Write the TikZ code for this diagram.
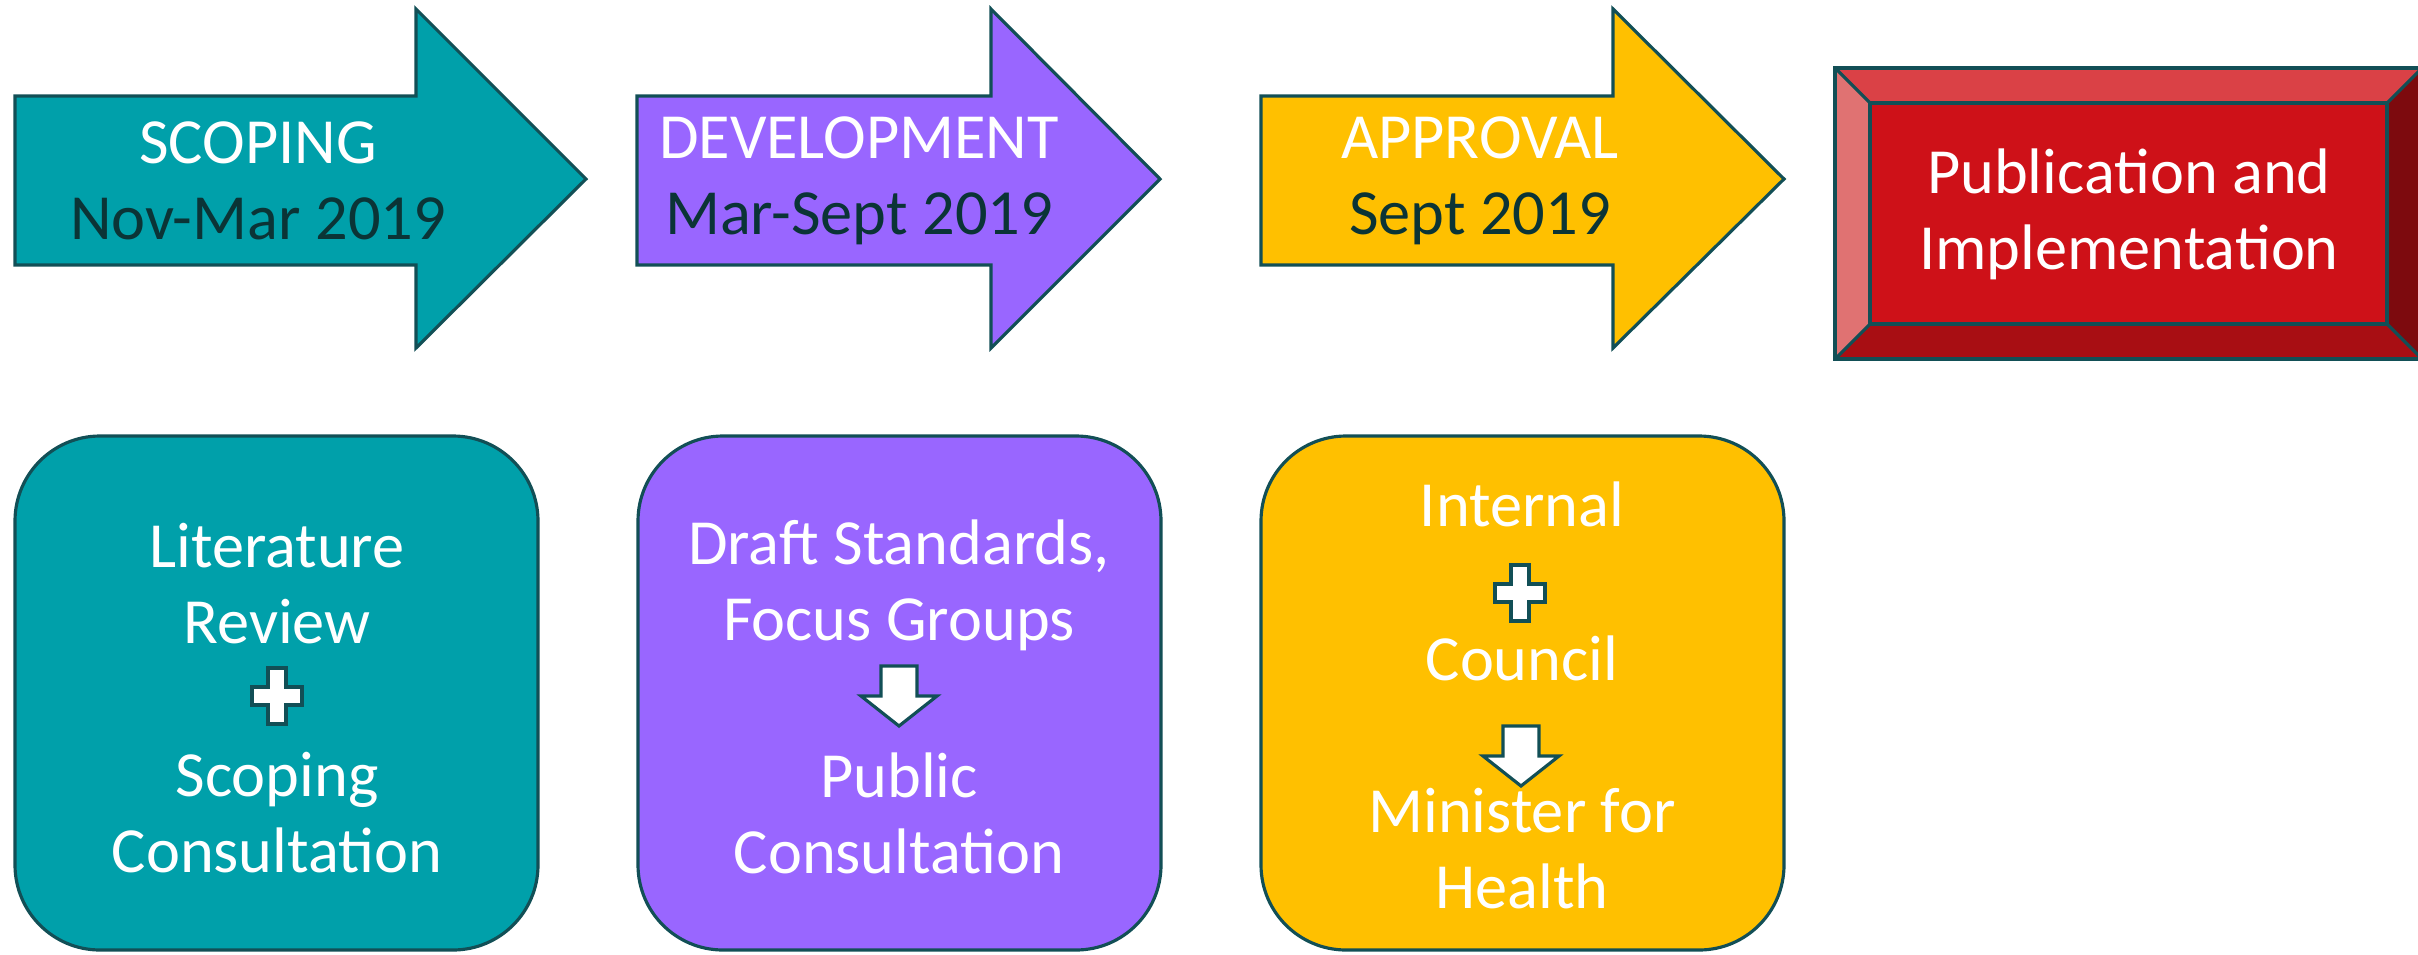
\documentclass[tikz,border=0pt]{standalone}
\usepackage{fontspec}
\setmainfont{Carlito}
\usepackage{tikz}

\definecolor{scopeteal}{HTML}{00A0AA}
\definecolor{devpurple}{HTML}{9966FF}
\definecolor{apramber}{HTML}{FFC000}
\definecolor{edgeteal}{HTML}{124F56}
\definecolor{darktext}{HTML}{0B3436}
\definecolor{pubred}{HTML}{CE1118}
\definecolor{pubtop}{HTML}{DA4146}
\definecolor{publeft}{HTML}{E07272}
\definecolor{pubbottom}{HTML}{A80E13}
\definecolor{pubright}{HTML}{7D0A0E}

\begin{document}
\begin{tikzpicture}[x=0.01cm,y=-0.01cm,line width=0.9pt,
                    txt/.style={text=white,align=center,inner sep=0pt,
                                font=\fontsize{18.3}{21.6}\selectfont}]
  \tikzstyle{stage}=[draw=edgeteal]
  \tikzstyle{task}=[draw=edgeteal,rounded corners=0.85cm]
  \tikzset{plus/.pic={\filldraw[fill=white,draw=edgeteal]
             (-9,-28) -- (9,-28) -- (9,-9) -- (25,-9) -- (25,9) -- (9,9) -- (9,28)
             -- (-9,28) -- (-9,9) -- (-25,9) -- (-25,-9) -- (-9,-9) -- cycle;},
           down/.pic={\filldraw[fill=white,draw=edgeteal]
             (-18,-30) -- (18,-30) -- (18,0) -- (38,0) -- (0,30) -- (-38,0)
             -- (-18,0) -- cycle;}}

  \useasboundingbox (0,0) rectangle (2418,954);

  \filldraw[stage,fill=scopeteal] (15,96) -- (416,96) -- (416,9) -- (586,179)
    -- (416,348) -- (416,265) -- (15,265) -- cycle;
  \filldraw[stage,fill=devpurple] (637,96) -- (991,96) -- (991,9) -- (1160,179)
    -- (991,348) -- (991,265) -- (637,265) -- cycle;
  \filldraw[stage,fill=apramber] (1261,96) -- (1613,96) -- (1613,9) -- (1784,179)
    -- (1613,348) -- (1613,265) -- (1261,265) -- cycle;

  \node[txt] (scoping)     at (258,181)  {SCOPING\\\textcolor{darktext}{Nov-Mar 2019}};
  \node[txt] (development) at (859,181)  {DEVELOPMENT\\\textcolor{darktext}{Mar-Sept 2019}};
  \node[txt] (approval)    at (1480,181) {APPROVAL\\\textcolor{darktext}{Sept 2019}};

  \fill[pubtop]    (1835,68) -- (2422,68) -- (2387,103) -- (1870,103) -- cycle;
  \fill[publeft]   (1835,68) -- (1870,103) -- (1870,324) -- (1835,359) -- cycle;
  \fill[pubbottom] (1835,359) -- (1870,324) -- (2387,324) -- (2422,359) -- cycle;
  \fill[pubright]  (2422,68) -- (2387,103) -- (2387,324) -- (2422,359) -- cycle;
  \filldraw[draw=edgeteal,fill=pubred] (1870,103) rectangle (2387,324);
  \draw[edgeteal] (1835,68) rectangle (2422,359);
  \draw[edgeteal] (1835,68) -- (1870,103) (2422,68) -- (2387,103)
                  (1835,359) -- (1870,324) (2422,359) -- (2387,324);
  \node[txt] (publication) at (2129,214) {Publication and\\Implementation};

  \draw[task,fill=scopeteal] (15,436) rectangle (538,950);
  \draw[task,fill=devpurple] (638,436) rectangle (1161,950);
  \draw[task,fill=apramber]  (1261,436) rectangle (1784,950);

  \node[txt] (literature) at (277,584) {Literature\\Review};
  \pic at (277,696) {plus};
  \node[txt] (consult)    at (277,813) {Scoping\\Consultation};

  \node[txt] (draft)      at (899,585) {Draft Standards,\\Focus Groups};
  \pic at (899,696) {down};
  \node[txt] (public)     at (899,813) {Public\\Consultation};

  \node[txt] (internal)   at (1522,504) {Internal};
  \pic at (1520,593) {plus};
  \node[txt] (council)    at (1522,658) {Council};
  \pic at (1521,756) {down};
  \node[txt] (minister)   at (1522,849) {Minister for\\Health};
\end{tikzpicture}
\end{document}
